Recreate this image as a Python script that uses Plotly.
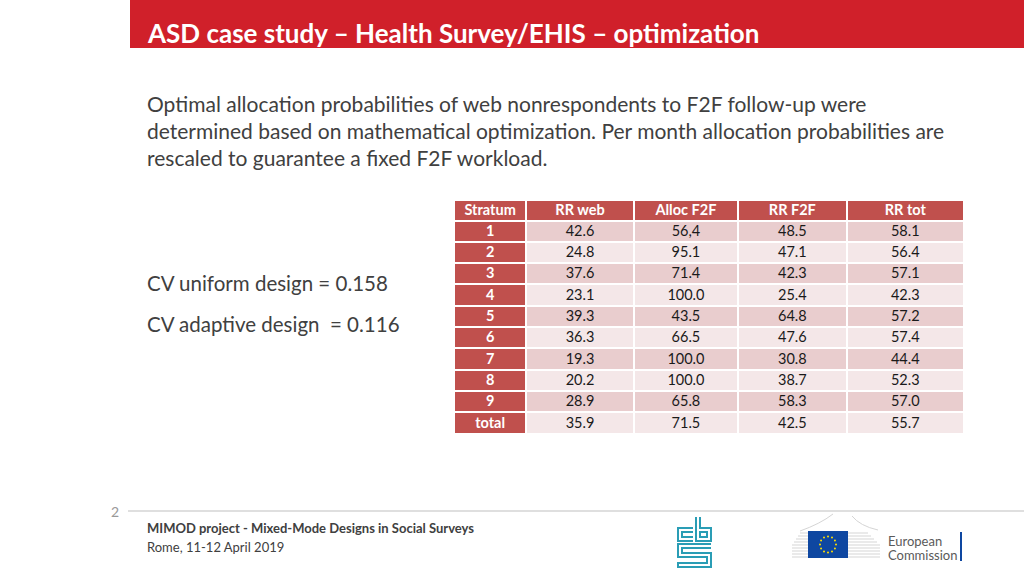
import math
import plotly.graph_objects as go

# ---- data ----
strata = ["1", "2", "3", "4", "5", "6", "7", "8", "9", "total"]
rr_web = ["42.6", "24.8", "37.6", "23.1", "39.3", "36.3", "19.3", "20.2", "28.9", "35.9"]
alloc_f2f = ["56,4", "95.1", "71.4", "100.0", "43.5", "66.5", "100.0", "100.0", "65.8", "71.5"]
rr_f2f = ["48.5", "47.1", "42.3", "25.4", "64.8", "47.6", "30.8", "38.7", "58.3", "42.5"]
rr_tot = ["58.1", "56.4", "57.1", "42.3", "57.2", "57.4", "44.4", "52.3", "57.0", "55.7"]
headers = ["Stratum", "RR web", "Alloc F2F", "RR F2F", "RR tot"]

TITLE = "ASD case study – Health Survey/EHIS – optimization"
BODY = ["Optimal allocation probabilities of web nonrespondents to F2F follow-up were",
        "determined based on mathematical optimization. Per month allocation probabilities are",
        "rescaled to guarantee a fixed F2F workload."]
CV_LINES = ["CV uniform design = 0.158", "CV adaptive design  = 0.116"]
FOOT1 = "MIMOD project - Mixed-Mode Designs in Social Surveys"
FOOT2 = "Rome, 11-12 April 2019"

W, H = 1024, 576
FONT = "Lato"
RED_HDR = "#C0504D"
BAND1 = "#E9CDCE"
BAND2 = "#F4E7E8"
TXT = "#404040"
CLEAR = "rgba(0,0,0,0)"
n = len(strata)
bands = [BAND1 if i % 2 == 0 else BAND2 for i in range(n)]
colw = [72, 107, 104, 108, 117]


def px(x):
    return x / W


def py(y):
    return 1 - y / H


fig = go.Figure()

TOP = 199.5
SHIFT = 3.5
# table fills (cells of the table, text drawn by the overlay table below)
fig.add_trace(go.Table(
    domain=dict(x=[px(454), px(964)], y=[py(445), py(TOP)]),
    columnwidth=colw,
    header=dict(values=[""] * len(headers), fill_color=RED_HDR,
                line=dict(color="white", width=2), height=21),
    cells=dict(values=[[""] * n for _ in headers],
               fill_color=[[RED_HDR] * n, bands, bands, bands, bands],
               line=dict(color="white", width=2), height=21.3),
))
# table text (same table geometry, shifted up to centre the text in each row)
fig.add_trace(go.Table(
    domain=dict(x=[px(454), px(964)], y=[py(445 - SHIFT), py(TOP - SHIFT)]),
    columnwidth=colw,
    header=dict(
        values=headers,
        fill_color=CLEAR,
        line=dict(color=CLEAR, width=0),
        font=dict(family=FONT, size=14.5, color="white", weight="bold"),
        align="center",
        height=21,
    ),
    cells=dict(
        values=[strata, rr_web, alloc_f2f, rr_f2f, rr_tot],
        fill_color=CLEAR,
        line=dict(color=CLEAR, width=0),
        font=dict(family=FONT, size=14.5,
                  color=["white", "#1a1a1a", "#1a1a1a", "#1a1a1a", "#1a1a1a"],
                  weight=["bold", "normal", "normal", "normal", "normal"]),
        align="center",
        height=21.3,
    ),
))

shapes = []
# title bar
shapes.append(dict(type="rect", xref="paper", yref="paper", x0=px(130), x1=1, y0=py(48), y1=1,
                   fillcolor="#D0202A", line=dict(width=0), layer="below"))
# footer line
shapes.append(dict(type="line", xref="paper", yref="paper", x0=px(128), x1=1, y0=py(511), y1=py(511),
                   line=dict(color="#BFBFBF", width=1)))

# CBS logo (decoration)
teal = "#2A9DB5"
cbs_paths = [
    "M 693 528 L 678 528 L 678 541 L 693 541",
    "M 693 532 L 682 532 L 682 537 L 693 537",
    "M 696 517 L 696 541 L 711 541 L 711 528 L 700 528 L 700 517",
    "M 700 532 L 707 532 L 707 537 L 700 537 Z",
    "M 711 544 L 678 544 L 678 557 L 707 557 L 707 563 L 678 563 L 678 567 L 711 567 L 711 553 L 682 553 L 682 548 L 711 548",
]
for p in cbs_paths:
    shapes.append(dict(type="path", xref="x", yref="y", path=p,
                       line=dict(color=teal, width=2)))

# EC logo building lines (decoration)
for i in range(9):
    yy = 533 + i * 3
    shapes.append(dict(type="line", xref="x", yref="y", x0=792 + max(0, 4 - i) * 2, x1=808, y0=yy, y1=yy,
                       line=dict(color="#D5D5D5", width=1)))
    shapes.append(dict(type="line", xref="x", yref="y", x0=848, x1=880 - max(0, 4 - i) * 3, y0=yy, y1=yy,
                       line=dict(color="#D5D5D5", width=1)))
shapes.append(dict(type="path", xref="x", yref="y", path="M 800 531 Q 820 524 833 514",
                   line=dict(color="#D5D5D5", width=1)))
shapes.append(dict(type="path", xref="x", yref="y", path="M 852 516 Q 860 526 878 530",
                   line=dict(color="#D5D5D5", width=1)))
shapes.append(dict(type="rect", xref="x", yref="y", x0=808, x1=848, y0=531, y1=558,
                   fillcolor="#0E47A1", line=dict(width=0)))
for k in range(12):
    a = 2 * math.pi * k / 12
    cx, cy = 828 + 8 * math.cos(a), 544.5 + 8 * math.sin(a)
    shapes.append(dict(type="circle", xref="x", yref="y", x0=cx - 1, x1=cx + 1, y0=cy - 1, y1=cy + 1,
                       fillcolor="#FFE000", line=dict(width=0)))
shapes.append(dict(type="line", xref="x", yref="y", x0=961, x1=961, y0=532, y1=561,
                   line=dict(color="#0E47A1", width=2)))

annotations = []


def ann(text, x, y, size, color=TXT, weight="normal"):
    annotations.append(dict(text=text, x=px(x), y=py(y), xref="paper", yref="paper",
                            xanchor="left", yanchor="middle", showarrow=False,
                            font=dict(family=FONT, size=size, color=color, weight=weight)))


ann(TITLE, 145, 33, 26, "white", "bold")
for i, line in enumerate(BODY):
    ann(line, 145, 103.5 + i * 27, 21)
for i, line in enumerate(CV_LINES):
    ann(line, 145, 283 + i * 41, 20.5)
ann("2", 109, 511, 14, "#999999")
ann(FOOT1, 145, 528, 13, TXT, "bold")
ann(FOOT2, 145, 547, 13)
ann("European", 886, 541, 13, "#5A5A5A")
ann("Commission", 886, 555, 13, "#5A5A5A")

fig.update_layout(
    width=W, height=H,
    margin=dict(l=0, r=0, t=0, b=0),
    paper_bgcolor="white", plot_bgcolor="white",
    xaxis=dict(range=[0, W], visible=False, fixedrange=True),
    yaxis=dict(range=[H, 0], visible=False, fixedrange=True),
    shapes=shapes,
    annotations=annotations,
    showlegend=False,
)

fig.write_html("out.html", config={"displayModeBar": False},
               post_script="document.body.style.margin='0';document.body.style.overflow='hidden';")
